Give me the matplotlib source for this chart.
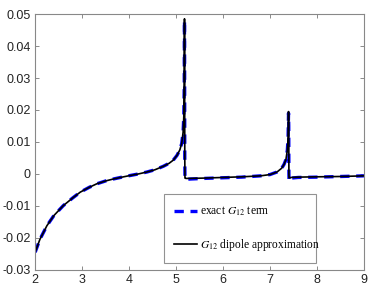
import matplotlib
matplotlib.use("Agg")
import matplotlib.pyplot as plt

# values
x_exact = [2.0, 2.1, 2.25, 2.4, 2.6, 2.8, 2.96, 3.15, 3.31, 3.5, 3.66, 3.85, 4.02,
           4.2, 4.38, 4.55, 4.73, 4.85, 4.94, 5.02, 5.08, 5.12, 5.15, 5.165,
           5.175, 5.18, 5.183, 5.186, 5.19, 5.21, 5.3, 5.6, 6.0, 6.4, 6.8,
           7.0, 7.15, 7.25, 7.3, 7.34, 7.37, 7.385, 7.395, 7.4, 7.403, 7.406,
           7.42, 7.45, 7.6, 8.0, 8.5, 9.0]
y_exact = [-0.0245, -0.0205, -0.0162, -0.0130, -0.0099, -0.0075, -0.0057, -0.0042,
           -0.0031, -0.0022, -0.0016, -0.0010, -0.0005, 0.0000, 0.0006, 0.0013,
           0.0024, 0.0033, 0.0043, 0.0058, 0.0075, 0.0095, 0.0130, 0.0180,
           0.0280, 0.0480, 0.0300, 0.0050, -0.0016, -0.0017, -0.0016, -0.0014,
           -0.0012, -0.0010, -0.0006, -0.0002, 0.0006, 0.0018, 0.0030, 0.0045,
           0.0075, 0.0110, 0.0190, 0.0150, 0.0000, -0.0022, -0.0018, -0.0013,
           -0.0011, -0.0010, -0.0008, -0.0006]
x_dipole = x_exact
y_dipole = [-0.0245, -0.0205, -0.0162, -0.0130, -0.0099, -0.0075, -0.0057, -0.0042,
            -0.0031, -0.0022, -0.0016, -0.0010, -0.0005, 0.0000, 0.0006, 0.0013,
            0.0024, 0.0033, 0.0043, 0.0058, 0.0075, 0.0095, 0.0130, 0.0180,
            0.0280, 0.0485, 0.0300, 0.0050, -0.0013, -0.0014, -0.0014, -0.0013,
            -0.0011, -0.0009, -0.0006, -0.0002, 0.0006, 0.0018, 0.0030, 0.0045,
            0.0075, 0.0110, 0.0195, 0.0150, 0.0000, -0.0012, -0.0012, -0.0011,
            -0.0010, -0.0009, -0.0008, -0.0006]

xticks = [2, 3, 4, 5, 6, 7, 8, 9]
yticks = [-0.03, -0.02, -0.01, 0, 0.01, 0.02, 0.03, 0.04, 0.05]
ytick_labels = ["-0.03", "-0.02", "-0.01", "0", "0.01", "0.02", "0.03", "0.04", "0.05"]

plt.rcParams["mathtext.fontset"] = "stix"
plt.rcParams["font.family"] = ["Liberation Sans", "DejaVu Sans"]

fig = plt.figure(figsize=(3.74, 2.93), dpi=100)
ax = fig.add_axes([0.094, 0.079, 0.879, 0.873])

ax.plot(x_exact, y_exact, color="#0000ff", lw=2.4, ls=(0, (2.8, 2.0)),
        label=r"exact $G_{12}$ term")
ax.plot(x_dipole, y_dipole, color="black", lw=1.2,
        label=r"$G_{12}$ dipole approximation")

ax.set_xlim(2, 9)
ax.set_ylim(-0.03, 0.05)
ax.set_xticks(xticks)
ax.set_yticks(yticks)
ax.set_yticklabels(ytick_labels)
ax.tick_params(direction="in", top=True, right=True, length=3, width=0.6,
               color="#777777", labelsize=9, pad=3, labelcolor="#222222")
for s in ax.spines.values():
    s.set_color("#888888")
    s.set_linewidth(0.8)

leg = ax.legend(loc="lower left", bbox_to_anchor=(0.392, 0.027, 0.462, 0.273),
                mode="expand", fancybox=False, edgecolor="#777777",
                prop={"family": "Liberation Serif", "size": 8.3},
                handlelength=2.0, handletextpad=0.25, labelspacing=1.6,
                borderpad=0.9, borderaxespad=0)
leg.get_frame().set_linewidth(0.8)

fig.savefig("out.png", dpi=100)
